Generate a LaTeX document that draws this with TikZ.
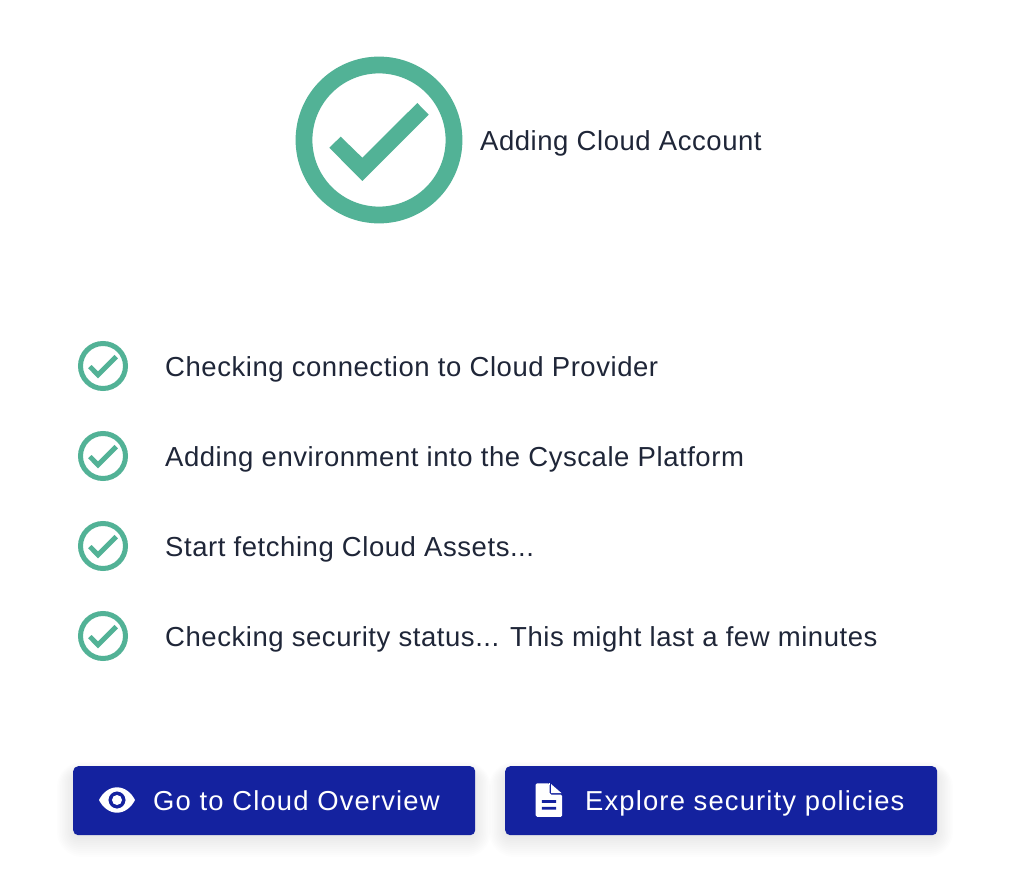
\documentclass[tikz,border=0pt]{standalone}
\usepackage{fontspec}
\setmainfont[LetterSpace=2.0]{Liberation Sans}
\newfontfamily\buttonfont[LetterSpace=4.2]{Liberation Sans}
\definecolor{okgreen}{HTML}{52B296}
\definecolor{navy}{HTML}{14229F}
\definecolor{ink}{HTML}{1F2638}
\tikzset{
  label text/.style={anchor=base west,inner sep=0pt,text=ink,font=\fontsize{27.5}{30}\selectfont},
  button text/.style={anchor=base west,inner sep=0pt,text=white,font=\buttonfont\fontsize{27.4}{30}\selectfont},
  button box/.style={anchor=north west,inner sep=0pt,fill=navy,rounded corners=5pt,minimum height=69pt},
  status/.pic={
    \fill[okgreen,even odd rule] (0,0) circle[radius=83.4] (0,0) circle[radius=66.6];
    \fill[okgreen] (-49.7,7.7) -- (-38.3,-3.3) -- (-16.7,17.7) -- (38.3,-37) -- (49.7,-25.3) -- (-16.7,41) -- cycle;
  }
}
\newcommand{\softshadow}[4]{%
  \foreach \g in {20,18,16,14,12,10,8,6,4,2,0}{
    \fill[black,opacity=0.008,rounded corners=5pt+\g*1pt]
      (#1-\g*0.8,#2+8-\g*0.6) rectangle (#3+\g*0.8,#4+2+\g*1.0);
  }}
\begin{document}
\begin{tikzpicture}[x=1pt,y=-1pt]
\useasboundingbox (0,0) rectangle (1026,882);
\fill[white] (0,0) rectangle (1026,882);
% header
\pic at (379,140) {status};
\node[label text] (title) at (480,150.5) {Adding Cloud Account};
% list
\pic[scale=0.3] at (103,366) {status};
\node[label text] (s1) at (165,376.3) {Checking connection to Cloud Provider};
\pic[scale=0.3] at (103,456) {status};
\node[label text] (s2) at (165,466.3) {Adding environment into the Cyscale Platform};
\pic[scale=0.3] at (103,546) {status};
\node[label text] (s3) at (165,556.3) {Start fetching Cloud Assets...};
\pic[scale=0.3] at (103,636) {status};
\node[label text] (s4) at (165,646.3) {Checking security status... This might last a few minutes};
% buttons
\softshadow{73}{766}{475}{835}
\softshadow{505}{766}{937}{835}
\node[button box,minimum width=402pt] (b1) at (73,766) {};
\node[button box,minimum width=432pt] (b2) at (505,766) {};
\node[button text] (b1t) at (153,810) {Go to Cloud Overview};
\node[button text] (b2t) at (585,810) {Explore security policies};
% eye icon
\fill[white,even odd rule]
  (99,800) .. controls (102.5,793) and (109,787.3) .. (117,787.3)
  .. controls (125,787.3) and (131.5,793) .. (135,800)
  .. controls (131.5,807) and (125,812.7) .. (117,812.7)
  .. controls (109,812.7) and (102.5,807) .. (99,800) -- cycle
  (117,800) circle[radius=8.6];
\fill[white] (117,800) circle[radius=5];
% document icon
\fill[white,rounded corners=1.5pt]
  (535.6,783.3) -- (549.6,783.3) -- (549.6,794.6) -- (562.2,794.6) -- (562.2,816.8) -- (535.6,816.8) -- cycle;
\fill[white] (549,783.3) rectangle (549.6,785);
\fill[navy] (541.9,800) rectangle (556.2,802.8) (541.9,806.8) rectangle (556.2,809.5);
\fill[white] (551,784) -- (551,793.2) -- (561.6,793.2) -- cycle;
\end{tikzpicture}
\end{document}
